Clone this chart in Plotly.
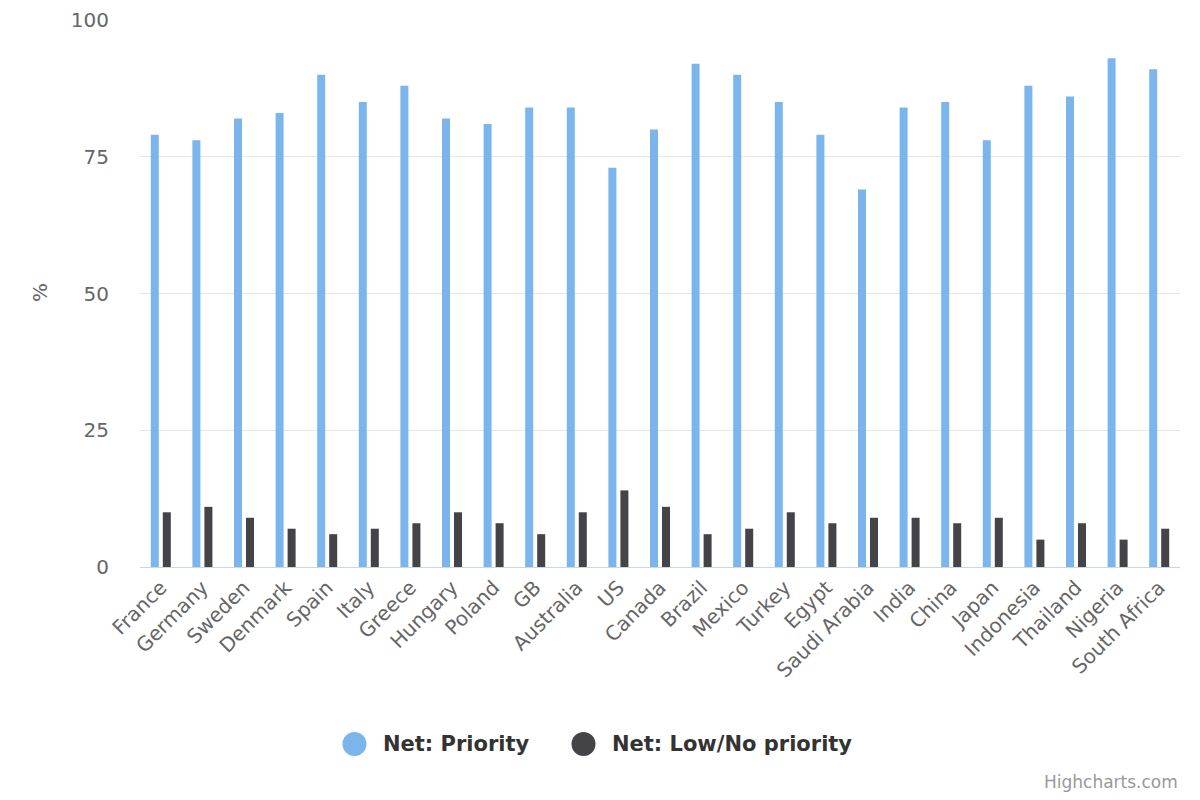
import plotly.graph_objects as go

categories = ["France", "Germany", "Sweden", "Denmark", "Spain", "Italy", "Greece",
              "Hungary", "Poland", "GB", "Australia", "US", "Canada", "Brazil",
              "Mexico", "Turkey", "Egypt", "Saudi Arabia", "India", "China", "Japan",
              "Indonesia", "Thailand", "Nigeria", "South Africa"]
priority = [79, 78, 82, 83, 90, 85, 88, 82, 81, 84, 84, 73, 80, 92,
            90, 85, 79, 69, 84, 85, 78, 88, 86, 93, 91]
low_priority = [10, 11, 9, 7, 6, 7, 8, 10, 8, 6, 10, 14, 11, 6,
                7, 10, 8, 9, 9, 8, 9, 5, 8, 5, 7]
series_names = ["Net: Priority", "Net: Low/No priority"]
colors = ["#7cb5ec", "#434348"]
y_ticks = [0, 25, 50, 75, 100]

FONT = "DejaVu Sans"
# page body has an 8px margin, so the figure is sized/offset to compensate
OFF = 8
W, H = 1200 - OFF, 800 - OFF
PLOT_L, PLOT_R, PLOT_T, PLOT_B = 140, 1180, 20, 567  # page pixel coords
L = PLOT_L - OFF
T = PLOT_T - OFF
R = W - (PLOT_R - OFF)
B = H - (PLOT_B - OFF)
PW, PH = PLOT_R - PLOT_L, PLOT_B - PLOT_T


def px_x(px):
    return (px - PLOT_L) / PW


def px_y(py):
    return (PLOT_B - py) / PH


fig = go.Figure()
for name, vals, col in zip(series_names, [priority, low_priority], colors):
    fig.add_trace(go.Bar(x=categories, y=vals, name=name, marker_color=col,
                         marker_line_width=0, showlegend=False))

# custom legend (circle symbols like the original)
legend_items = [(354.5, 381), (583.5, 610)]
shapes = []
annotations = []
for (cx, tx), name, col in zip(legend_items, series_names, colors):
    cy = 744
    shapes.append(dict(type="circle", xref="paper", yref="paper",
                       x0=px_x(cx - 12), x1=px_x(cx + 12),
                       y0=px_y(cy + 12), y1=px_y(cy - 12),
                       fillcolor=col, line=dict(width=0)))
    annotations.append(dict(text=name, xref="paper", yref="paper",
                            x=px_x(tx), y=px_y(cy), xanchor="left", yanchor="middle",
                            showarrow=False,
                            font=dict(family=FONT, size=21, color="#333333",
                                      weight="bold")))

annotations.append(dict(text="%", xref="paper", yref="paper", x=px_x(40), y=px_y(293),
                        showarrow=False, textangle=-90,
                        font=dict(size=20, color="#666666"),
                        xanchor="center", yanchor="middle"))
annotations.append(dict(text="Highcharts.com", xref="paper", yref="paper",
                        x=px_x(1180), y=px_y(782), showarrow=False,
                        xanchor="right", yanchor="middle",
                        font=dict(size=17, color="#999999")))

fig.update_layout(
    width=W, height=H,
    margin=dict(l=L, r=R, t=T, b=B, autoexpand=False),
    paper_bgcolor="white", plot_bgcolor="white",
    barmode="group", bargap=0.423, bargroupgap=0.333,
    font=dict(family=FONT, color="#666666", size=20),
    showlegend=False,
    xaxis=dict(type="category", tickangle=-45, showgrid=False, showline=True,
               linecolor="#ccd6eb", linewidth=1, ticks="", automargin=False,
               tickfont=dict(size=20, color="#666666"), fixedrange=True),
    yaxis=dict(range=[0, 100], tickvals=y_ticks, showgrid=True, gridcolor="#e6e6e6",
               gridwidth=1, zeroline=False, showline=False, ticks="",
               ticklabelstandoff=30, automargin=False,
               tickfont=dict(size=20, color="#666666"), fixedrange=True),
    shapes=shapes,
    annotations=annotations,
)
fig.write_html("out.html")
